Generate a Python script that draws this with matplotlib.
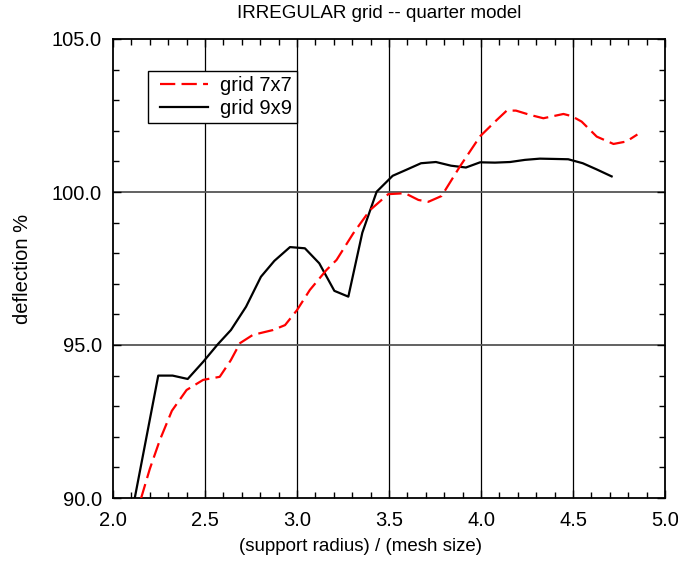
import matplotlib
matplotlib.use('Agg')
import matplotlib.pyplot as plt
from matplotlib.ticker import MultipleLocator
from matplotlib.legend_handler import HandlerLine2D

plt.rcParams['font.family'] = ['Liberation Sans', 'DejaVu Sans']
plt.rcParams['lines.scale_dashes'] = False

# grid 7x7 (red dashed)
x7 = [2.12, 2.155, 2.20, 2.255, 2.32, 2.40, 2.49, 2.58, 2.64, 2.69, 2.76, 2.87,
      2.935, 3.0, 3.07, 3.16, 3.215, 3.306, 3.397, 3.496, 3.587, 3.66, 3.714,
      3.786, 3.886, 3.995, 4.085, 4.14, 4.19, 4.266, 4.339, 4.448, 4.493, 4.547,
      4.629, 4.72, 4.79, 4.85]
y7 = [89.3, 90.04, 90.95, 91.9, 92.85, 93.53, 93.86, 93.96, 94.5, 95.06, 95.33, 95.49,
      95.65, 96.14, 96.8, 97.45, 97.78, 98.65, 99.41, 99.93, 99.96, 99.74, 99.68,
      99.87, 100.84, 101.82, 102.35, 102.66, 102.66, 102.52, 102.41, 102.55, 102.48, 102.3,
      101.81, 101.57, 101.65, 101.88]

# grid 9x9 (black solid)
x9 = [2.08, 2.246, 2.324, 2.406, 2.49, 2.569, 2.641, 2.723, 2.804, 2.877, 2.962,
      3.043, 3.121, 3.203, 3.279, 3.355, 3.433, 3.52, 3.592, 3.674, 3.755, 3.837,
      3.918, 3.995, 4.076, 4.158, 4.239, 4.32, 4.40, 4.474, 4.553, 4.628, 4.71]
y9 = [88.8, 94.0, 94.0, 93.89, 94.45, 95.02, 95.49, 96.25, 97.23, 97.75, 98.2,
      98.16, 97.67, 96.77, 96.58, 98.67, 100.01, 100.53, 100.72, 100.94, 100.98, 100.86,
      100.80, 100.97, 100.96, 100.98, 101.05, 101.09, 101.08, 101.07, 100.94, 100.74, 100.51]

fig = plt.figure(figsize=(6.78, 5.61), dpi=100)
ax = fig.add_axes([113/678, 1-498/561, 552/678, 459/561])

for xv in [2.5, 3.0, 3.5, 4.0, 4.5]:
    ax.axvline(xv, color='black', lw=0.9, zorder=1)
for yv in [95, 100]:
    ax.axhline(yv, color='#555555', lw=1.3, zorder=1)

l7, = ax.plot(x7, y7, color='red', lw=1.6, label='grid 7x7', zorder=3)
l7.set_dashes((11, 4.5))
ax.plot(x9, y9, color='black', lw=1.6, label='grid 9x9', zorder=2)

ax.set_xlim(2.0, 5.0)
ax.set_ylim(90.0, 105.0)
ax.xaxis.set_major_locator(MultipleLocator(0.5))
ax.xaxis.set_minor_locator(MultipleLocator(0.1))
ax.yaxis.set_major_locator(MultipleLocator(5))
ax.yaxis.set_minor_locator(MultipleLocator(1))
ax.xaxis.set_major_formatter(plt.FormatStrFormatter('%.1f'))
ax.yaxis.set_major_formatter(plt.FormatStrFormatter('%.1f'))
ax.tick_params(which='both', direction='in', top=True, right=True, labelsize=14.5, width=1)
ax.tick_params(which='major', length=6)
ax.tick_params(which='minor', length=4)
ax.tick_params(axis='y', which='major', pad=8)
ax.tick_params(axis='x', which='major', pad=9)
for s in ax.spines.values():
    s.set_linewidth(1.3)

ax.set_title('IRREGULAR grid -- quarter model', fontsize=13.5, pad=15, x=0.483)
ax.set_xlabel('(support radius) / (mesh size)', fontsize=13.5, x=0.449, labelpad=6)
ax.set_ylabel('deflection %', fontsize=14.5, labelpad=14)

# shift the legend handles right a little, as in the original
hl = HandlerLine2D(xpad=0.35)
leg = ax.legend(loc='upper left', bbox_to_anchor=(0.063, 0.93), fontsize=14.5,
                fancybox=False, edgecolor='black', framealpha=1, borderpad=0.25,
                handlelength=2.75, handletextpad=0.6, labelspacing=0.2, borderaxespad=0,
                handler_map={l7: hl, ax.lines[-1]: hl})
leg.get_frame().set_linewidth(1.0)

fig.savefig('out.png', dpi=100)
